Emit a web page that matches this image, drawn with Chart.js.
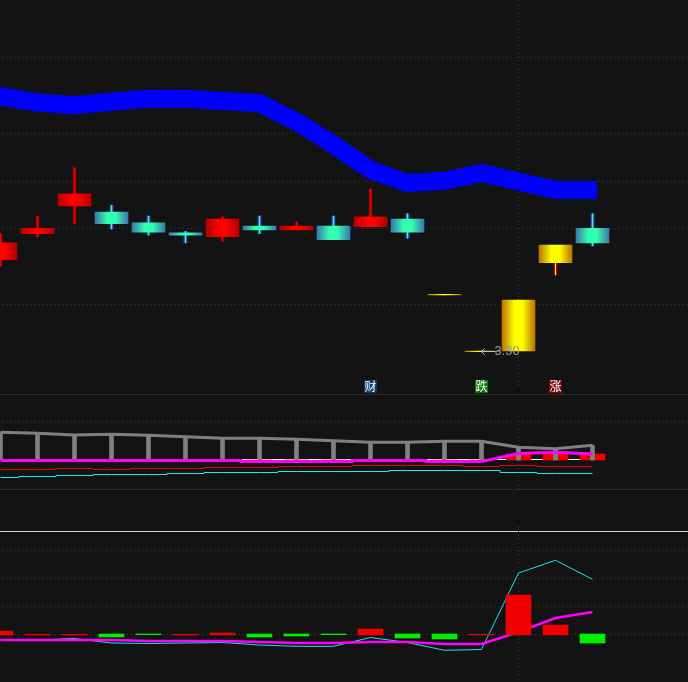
<!DOCTYPE html>
<html>
<head>
<meta charset="utf-8">
<script src="https://cdn.jsdelivr.net/npm/chart.js@4"></script>
<style>
html, body { margin: 0; padding: 0; background: #131313; overflow: hidden; }
canvas { display: block; }
</style>
</head>
<body>
<canvas id="myChart" width="688" height="682"></canvas>
<script>
// price panel
const candleKinds = ['up','up','up','down','down','down','up','down','up','down','up','down','limit','limit','limit','limit','down'];
const opens  = [3.419,3.453,3.489,3.481,3.467,3.454,3.449,3.463,3.458,3.463,3.462,3.472,3.374,3.300,3.3665,3.438,3.460];
const closes = [3.441,3.460,3.505,3.466,3.455,3.451,3.472,3.458,3.463,3.445,3.475,3.455,3.373,3.299,3.300,3.415,3.441];
const highs  = [3.453,3.476,3.539,3.490,3.476,3.456,3.475,3.476,3.468,3.476,3.511,3.479,3.374,3.300,3.3665,3.438,3.479];
const lows   = [3.411,3.449,3.466,3.459,3.451,3.441,3.443,3.453,3.458,3.445,3.462,3.447,3.373,3.299,3.300,3.399,3.437];
const trendLine = [3.632,3.624,3.6205,3.625,3.629,3.629,3.626,3.623,3.599,3.569,3.536,3.519,3.522,3.532,3.521,3.510,3.510];
const priceTicks = [3.36,3.46,3.521,3.583,3.683];
const lowLabel = { index: 13, price: 3.30, text: '3.30' };
const eventMarkers = [
    { index: 10, text: '财', color: '#0a3a68' },
    { index: 13, text: '跌', color: '#067a06' },
    { index: 15, text: '涨', color: '#7c0808' },
];

// middle panel
const grayLine = [27.7,26.7,25,25.7,24.7,23.3,21.7,21.7,20.7,19.3,17.7,17.7,18.7,18.7,12.7,11.3,14.7];
const whiteLine = [0.5,0.5,0.5,0.5,0.5,0.5,0.5,0.5,0.5,0.5,0.5,0.5,0.5,0.5,0.5,0.5,0.5];
const midMagenta = [-0.5,-0.5,-0.5,-0.5,-0.5,-0.5,-0.5,-1.5,-1.5,-1.5,-0.5,-0.5,-1.5,-1.5,6.5,7.7,6];
const midRed = [-9.5,-9.5,-8.5,-9.5,-8.5,-8.5,-7.5,-7.5,-6.5,-6.5,-5.5,-5.5,-5.5,-6.5,-5.5,-6.5,-6.5];
const midCyan = [-17.5,-16.5,-15.5,-14.5,-14.5,-13.5,-12.5,-12.5,-11.5,-11.5,-11.5,-10.5,-10.5,-10.5,-12.5,-13.5,-13.5];
const midBars = [0,0,0,0,0,0,0,0,0,0,0,0,0,0,6,6,6];
const midTicks = [38.7];

// lower panel
const macdBars = [0.035,0.002,0.002,-0.025,-0.002,0.002,0.015,-0.025,-0.015,-0.002,0.055,-0.035,-0.045,0.002,0.395,0.095,-0.085];
const macdCyan = [-0.055,-0.055,-0.04,-0.085,-0.09,-0.085,-0.08,-0.105,-0.118,-0.118,-0.03,-0.08,-0.158,-0.15,0.615,0.742,0.552];
const macdMagenta = [-0.055,-0.055,-0.055,-0.055,-0.065,-0.065,-0.065,-0.075,-0.085,-0.085,-0.075,-0.075,-0.095,-0.095,0.025,0.165,0.225];
const macdTicks = [0.002,0.282,0.562,0.842];

const cursorIndex = 14;
const framePixels = [394, 489, 531];

const edgeColors = { up: '#b40000', down: '#3a78b0', limit: '#b87400' };
const midColors = { up: '#ff0000', down: '#33ffb0', limit: '#ffff00' };
const wickEdges = { up: '#a00000', down: '#2e5ed8', limit: '#b00000' };

function bandFill(c, width, edges, from, to) {
    if (c.type !== 'data') return 'transparent';
    const kind = candleKinds[c.dataIndex];
    const x = c.chart.scales.x.getPixelForValue(c.dataIndex);
    if (!isFinite(x)) return midColors[kind]; // scale not laid out yet
    const g = c.chart.ctx.createLinearGradient(x - width / 2, 0, x + width / 2, 0);
    g.addColorStop(0, edges[kind]);
    g.addColorStop(from, from < 0.4 && width < 5 ? edges[kind] : midColors[kind]);
    g.addColorStop(0.5, midColors[kind]);
    g.addColorStop(to, to > 0.6 && width < 5 ? edges[kind] : midColors[kind]);
    g.addColorStop(1, edges[kind]);
    return g;
}

function series(values, first, last) {
    const pts = values.map((v, i) => ({ x: i, y: v }));
    return pts.slice(first || 0, last === undefined ? pts.length : last + 1);
}

function bars(lo, hi) {
    return lo.map((v, i) => ({ x: i, y: [v, hi[i]] }));
}

function cursor(axis, from, to) {
    return {
        type: 'line', yAxisID: axis, order: 30,
        data: [{ x: cursorIndex, y: from }, { x: cursorIndex, y: to }],
        borderColor: '#33414f', borderWidth: 1, borderDash: [1, 3],
        pointRadius: 0,
    };
}

function line(axis, points, color, width, order, stepped) {
    return {
        type: 'line', yAxisID: axis, order: order,
        data: points,
        borderColor: color, borderWidth: width,
        stepped: stepped || false, pointRadius: 0,
    };
}

function gridAxis(ticks, min, max) {
    return {
        type: 'linear', min: min, max: max, position: 'left',
        afterBuildTicks: (axis) => { axis.ticks = ticks.map(v => ({ value: v })); },
        ticks: { display: false },
        grid: { color: '#3a3a3a', drawTicks: false, offset: false },
        border: { display: false, dash: [1, 3], dashOffset: 1 },
    };
}

const labelsPlugin = {
    id: 'labels',
    afterDatasetsDraw(chart) {
        const c = chart.ctx, x = chart.scales.x, y = chart.scales.yPrice;
        c.save();
        c.textAlign = 'center';
        c.textBaseline = 'middle';
        c.font = '12px "Noto Sans CJK SC"';
        eventMarkers.forEach(m => {
            const px = Math.round(x.getPixelForValue(m.index)) - 1;
            c.fillStyle = m.color;
            c.fillRect(px - 6, 380, 13, 13);
            c.fillStyle = '#fff';
            c.fillText(m.text, px + 0.5, 386);
        });
        // low price note
        const lx = x.getPixelForValue(lowLabel.index), ly = Math.round(y.getPixelForValue(lowLabel.price)) + 0.5;
        c.strokeStyle = '#c4c4c4';
        c.beginPath();
        c.moveTo(lx, ly);
        c.lineTo(lx + 13, ly);
        c.moveTo(lx + 3, ly - 3);
        c.lineTo(lx, ly);
        c.lineTo(lx + 3, ly + 3);
        c.stroke();
        c.fillStyle = '#8d9db4';
        c.textAlign = 'left';
        c.font = '13px Roboto';
        c.fillText(lowLabel.text, lx + 13, ly);
        c.restore();
    }
};

new Chart(document.getElementById('myChart'), {
    type: 'bar',
    data: {
        datasets: [
            // lower panel
            { yAxisID: 'yMacd', order: 1, grouped: false, barThickness: 25, borderWidth: 0,
              data: bars(macdBars.map(v => v > 0 ? -0.005 : 0.005), macdBars),
              backgroundColor: macdBars.map(v => v > 0 ? '#f00000' : '#00f000') },
            line('yMacd', series(macdMagenta), '#ff00ff', 2.5, 2),
            line('yMacd', series(macdCyan), '#19e6e6', 1, 3),
            // middle panel
            line('yMid', series(midMagenta, 0, 13), '#ff00ff', 3, 4, 'middle'),
            line('yMid', series(midMagenta, 13, 16), '#ff00ff', 3, 4),
            line('yMid', series(midRed), '#f00000', 1, 5, 'middle'),
            line('yMid', series(midCyan), '#19f0f0', 1, 5, 'middle'),
            line('yMid', series(grayLine), '#808080', 3, 6),
            { yAxisID: 'yMid', order: 7, grouped: false, barThickness: 4, borderWidth: 0,
              data: bars(grayLine.map(() => 0), grayLine), backgroundColor: '#808080' },
            { yAxisID: 'yMid', order: 8, grouped: false, barThickness: 25, borderWidth: 0,
              data: bars(midBars.map(() => 0), midBars), backgroundColor: '#f00000' },
            line('yMid', series(whiteLine), '#ffffff', 1, 9),
            // price panel
            { yAxisID: 'yPrice', order: 10, type: 'line', borderColor: '#0000ff', borderWidth: 18, pointRadius: 0,
              data: [{ x: -0.1, y: trendLine[0] }].concat(series(trendLine), [{ x: 16.12, y: trendLine[16] }]) },
            { yAxisID: 'yPrice', order: 11, grouped: false, barThickness: 33, borderWidth: 0,
              data: bars(opens, closes), backgroundColor: c => bandFill(c, 33, edgeColors, 0.38, 0.62) },
            { yAxisID: 'yPrice', order: 12, grouped: false, barThickness: 3, borderWidth: 0,
              data: bars(lows, highs), backgroundColor: c => bandFill(c, 3, wickEdges, 0.33, 0.67) },
            cursor('yPrice', 3.7576, 3.2537),
            cursor('yMid', 44, -29),
            cursor('yMacd', 1.075, -0.475),
        ]
    },
    options: {
        responsive: false,
        animation: false,
        events: [],
        layout: { padding: 0 },
        plugins: { legend: { display: false }, tooltip: { enabled: false } },
        scales: {
            x: { type: 'linear', display: false, offset: false, min: -0.5 / 37, max: 687.5 / 37, grid: { display: false, offset: false } },
            yPrice: gridAxis(priceTicks, 2.86845, 3.7576),
            yMid: gridAxis(midTicks, -222, 460),
            yMacd: gridAxis(macdTicks, -0.475, 6.345),
            yFrame: {
                type: 'linear', min: 0, max: 682, reverse: true, position: 'left',
                afterBuildTicks: (axis) => { axis.ticks = framePixels.map(v => ({ value: v })); },
                ticks: { display: false },
                grid: { color: c => c.tick && c.tick.value === 531 ? '#d8d8d8' : '#2a2a33', drawTicks: false },
                border: { display: false },
            },
        }
    },
    plugins: [labelsPlugin]
});
</script>
</body>
</html>
